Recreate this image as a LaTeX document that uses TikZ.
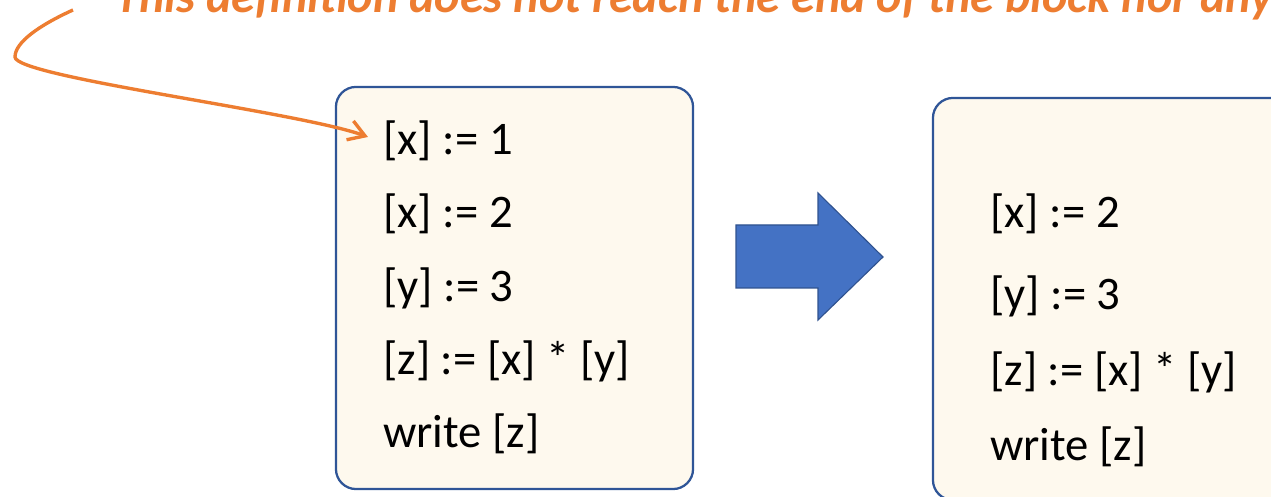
\documentclass[tikz,border=0pt]{standalone}
\usepackage{fontspec}
\setmainfont{Carlito}
\usepackage{tikz}
\usetikzlibrary{arrows.meta,positioning}
\definecolor{boxfill}{HTML}{FEF9EE}
\definecolor{boxline}{HTML}{2F5597}
\definecolor{arrowfill}{HTML}{4472C4}
\definecolor{arrowline}{HTML}{2F528F}
\definecolor{noteorange}{HTML}{ED7D31}

\begin{document}
\begin{tikzpicture}[x=0.025cm,y=0.025cm,>=Latex,
  codebox/.style={draw=boxline,line width=1.6pt,fill=boxfill,rounded corners=0.5cm,
    minimum width=8.925cm,minimum height=10.05cm},
  codeline/.style={anchor=west,inner sep=0pt,font=\fontsize{33.2}{40}\selectfont},
  defarrow/.style={draw=noteorange,line width=2.4pt,
    -{Straight Barb[length=0.4cm,width=0.5cm]}}]
  \useasboundingbox (0,0) rectangle (1271,497);
  \clip (0,0) rectangle (1271,497);
  \node[codebox] (before) at (514.5,209) {};
  \node[codebox] (after) at (1111.5,198) {};
  \foreach \n/\yy/\txt in {1/356/{[x] := 1},2/283/{[x] := 2},3/209/{[y] := 3},
                           4/136/{[z] := [x] * [y]},5/63/{write [z]}}
  {
    \node[codeline] (b\n) at (383,\yy) {\txt};
  }
  \foreach \n/\yy/\txt in {1/283/{[x] := 2},2/201/{[y] := 3},
                           3/125/{[z] := [x] * [y]},4/50/{write [z]}}
  {
    \node[codeline] (a\n) at (990,\yy) {\txt};
  }
  \draw[draw=arrowline,fill=arrowfill,line width=0.8pt] (736,209) -- ++(82,0) -- ++(0,-32)
        -- (883,240) -- (818,304) -- ++(0,-32) -- (736,272) -- cycle;
  \node[font=\fontsize{34.3}{40}\selectfont\bfseries\itshape,text=noteorange,
        anchor=base west,inner sep=0pt] (note) at (115,484)
       {This definition does not reach the end of the block nor any};
  \coordinate (tail) at (73,487);
  \draw[defarrow] (tail) .. controls (40,472) and (15,455) .. (15,440)
        .. controls (15,420) and (300,385) .. ([xshift=-0.375cm,yshift=0.1cm]b1.west);
\end{tikzpicture}
\end{document}
